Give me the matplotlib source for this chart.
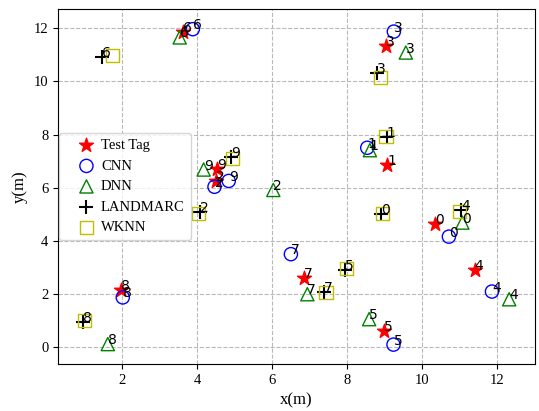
import matplotlib
matplotlib.use("Agg")
import matplotlib.pyplot as plt
import numpy as np

plt.rcParams["font.family"] = ["Liberation Serif", "DejaVu Serif"]

# positions (metres), index 0..9
test_x = [10.36, 9.07, 4.51, 9.04, 11.41, 8.99, 3.63, 6.84, 1.95, 4.53]
test_y = [4.64, 6.86, 6.23, 11.33, 2.90, 0.60, 11.85, 2.58, 2.14, 6.69]

cnn_x = [10.72, 8.54, 4.46, 9.25, 11.87, 9.24, 3.88, 6.50, 2.01, 4.84]
cnn_y = [4.15, 7.50, 6.03, 11.88, 2.08, 0.08, 11.97, 3.49, 1.86, 6.25]

dnn_x = [11.08, 8.61, 6.03, 9.57, 12.33, 8.59, 3.53, 6.94, 1.61, 4.17]
dnn_y = [4.68, 7.41, 5.91, 11.09, 1.79, 1.04, 11.66, 1.98, 0.10, 6.68]

lm_x = [8.91, 9.06, 4.08, 8.81, 11.04, 7.95, 1.46, 7.39, 0.95, 4.91]
lm_y = [5.00, 7.89, 5.09, 10.33, 5.15, 2.89, 10.93, 2.05, 0.94, 7.16]

wknn_x = [8.94, 9.04, 4.04, 8.90, 11.01, 7.99, 1.74, 7.44, 0.99, 4.95]
wknn_y = [5.03, 7.92, 5.03, 10.15, 5.09, 2.95, 10.97, 2.04, 0.98, 7.10]

fig = plt.figure(figsize=(5.39, 4.11), dpi=100)
ax = fig.add_axes([0.1076, 0.1144, 0.885, 0.863])

ax.scatter(test_x, test_y, marker="*", s=110, c="red", label="Test Tag", zorder=3)
ax.scatter(cnn_x, cnn_y, marker="o", s=90, facecolors="none", edgecolors="blue", label="CNN", zorder=3)
ax.scatter(dnn_x, dnn_y, marker="^", s=90, facecolors="none", edgecolors="green", label="DNN", zorder=3)
ax.scatter(lm_x, lm_y, marker="+", s=110, c="black", linewidths=1.5, label="LANDMARC", zorder=3)
ax.scatter(wknn_x, wknn_y, marker="s", s=90, facecolors="none", edgecolors="y", label="WKNN", zorder=3)

# index labels (the WKNN points are not labelled in the original)
for xs, ys in [(test_x, test_y), (cnn_x, cnn_y), (dnn_x, dnn_y), (lm_x, lm_y)]:
    for i in range(len(xs)):
        ax.text(xs[i], ys[i], str(i), fontsize=10, family="DejaVu Sans", zorder=4)

ax.set_xlim(0.28, 13.02)
ax.set_ylim(-0.65, 12.72)
ax.grid(True, linestyle="--", color="#b8b8b8", linewidth=0.8)
ax.set_axisbelow(True)
ax.tick_params(labelsize=10.5)
ax.set_xlabel("x(m)", fontsize=12)
ax.set_ylabel("y(m)", fontsize=12)
ax.legend(loc="center left", fontsize=10.5, borderaxespad=0.1,
          handlelength=2.9, handletextpad=-0.45)

fig.savefig("out.png", dpi=100)
